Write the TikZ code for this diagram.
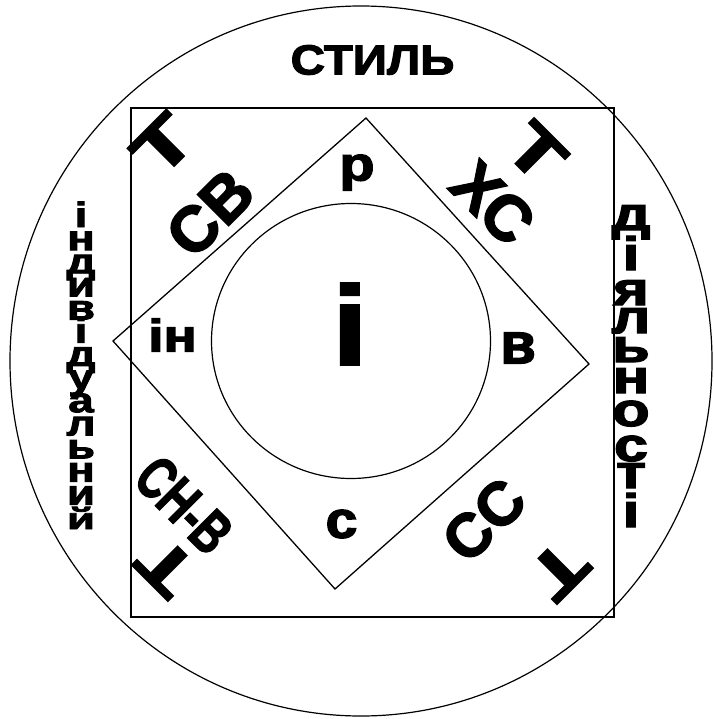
\documentclass[tikz,border=0pt]{standalone}
\usepackage{fontspec}
\setmainfont{Liberation Sans}[BoldFeatures={FakeBold=2.5}]
\begin{document}
\begin{tikzpicture}[x=1pt,y=-1pt, line width=1.2pt,
  fs/.style={font=\bfseries\fontsize{#1}{#1}\selectfont, inner sep=0pt, outer sep=0pt}]
\useasboundingbox (0,0) rectangle (713,719);
% outer circle
\draw (361,361) ellipse (351pt and 355pt);
% rectangle
\draw[line width=1.5pt] (131,108) rectangle (614,617);
% diamond
\draw[line width=1.3pt] (366,118) -- (589,364) -- (335,589) -- (113,341) -- cycle;
% inner circle
\draw (351,341) ellipse (139.5pt and 137.5pt);
% title
\node[fs=42, xscale=1.13] (stil) at (372.5,60) {СТИЛЬ};
% corner labels
\node[fs=66, rotate=45, xscale=1.4] (t1) at (163,145) {Т};
\node[fs=64, rotate=45] (sv) at (210,213) {СВ};
\node[fs=64, rotate=-45] (khs) at (493,203) {ХС};
\node[fs=66, rotate=-45, xscale=1.3] (t2) at (536,152) {Т};
\node[fs=60, rotate=-45, xscale=0.72] (snv) at (184,505) {СН-В};
\node[fs=66, rotate=135, xscale=1.3] (t3) at (166,567) {Т};
\node[fs=61, rotate=45] (ss) at (484,520) {СС};
\node[fs=66, rotate=-135, xscale=1.3] (t4) at (559,570) {Т};
% inner labels
\node[fs=48, xscale=1.2] (r) at (357,172.5) {р};
\node[fs=46, xscale=1.2] (in) at (172.5,335) {ін};
\node[fs=58] (v) at (518,348) {в};
\node[fs=52, xscale=1.1] (s) at (341.5,524) {с};
\node[fs=112, xscale=1.1] (i) at (350,324) {і};
% vertical words
\foreach \ch [count=\k from 0] in {і,н,д,и,в,і,д,у,а,л,ь,н,и}
  \node[fs=35, xscale=1.3, anchor=base] (left\k) at (81,{227+23.15*\k}) {\ch};
\node[fs=35, xscale=1.3, yscale=0.85, anchor=base] (left13) at (81,529) {й};
\foreach \ch/\yy [count=\k] in {д/230,і/270,я/305,л/333,ь/362,н/393,о/426,с/461,т/488,і/527}
  \node[fs=47, xscale=1.3, anchor=base] (right\k) at (631,\yy) {\ch};
\end{tikzpicture}
\end{document}
